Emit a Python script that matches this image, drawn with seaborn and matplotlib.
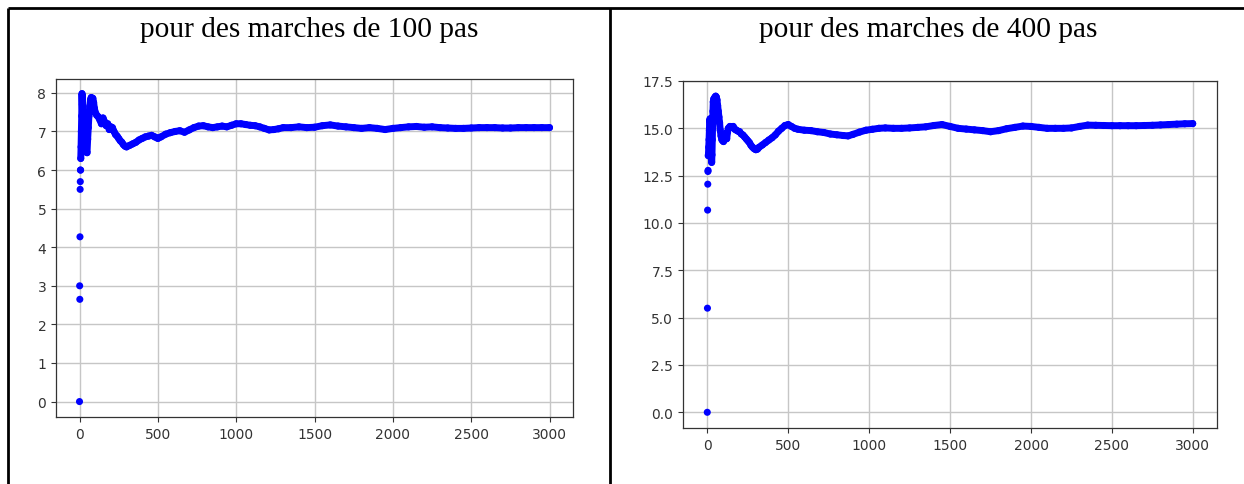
import matplotlib
matplotlib.use("Agg")
import matplotlib.pyplot as plt
import seaborn as sns
from matplotlib.lines import Line2D

# ---------------- data ----------------
titles = ["pour des marches de 100 pas", "pour des marches de 400 pas"]

# 100 pas: isolated early points
early_x_100 = [0, 1, 2, 3, 4, 5, 6, 7]
early_y_100 = [0.0, 3.0, 2.65, 4.27, 5.5, 5.7, 6.0, 6.0]
# 100 pas: running curve
curve_x_100 = [8, 10, 12, 14, 16, 18, 20, 22, 24, 27, 30, 33, 36, 40, 44, 48, 52, 56, 60, 65,
               70, 75, 80, 85, 90, 95, 100, 110, 120, 130, 140, 150, 160, 170, 180, 190, 200,
               210, 220, 230, 240, 250, 260, 270, 280, 290, 300, 320, 340, 360, 380, 400, 420,
               440, 460, 480, 500, 520, 550, 580, 610, 640, 670, 700, 730, 760, 790, 820, 850,
               880, 910, 940, 970, 1000, 1030, 1060, 1090, 1120, 1150, 1180, 1210, 1240, 1270,
               1300, 1350, 1400, 1450, 1500, 1550, 1600, 1650, 1700, 1750, 1800, 1850, 1900,
               1950, 2000, 2050, 2100, 2150, 2200, 2250, 2300, 2350, 2400, 2450, 2500, 2550,
               2600, 2650, 2700, 2750, 2800, 2850, 2900, 2950, 2999]
curve_y_100 = [6.3, 6.6, 7.0, 7.4, 7.98, 7.7, 7.4, 7.15, 6.9, 7.1, 6.8, 7.0, 6.7, 6.9, 6.5, 6.45,
               6.8, 7.1, 7.4, 7.65, 7.82, 7.88, 7.8, 7.86, 7.75, 7.6, 7.5, 7.42, 7.38, 7.3, 7.2,
               7.35, 7.25, 7.15, 7.2, 7.05, 7.12, 7.1, 7.0, 6.92, 6.88, 6.82, 6.76, 6.72, 6.66,
               6.62, 6.6, 6.64, 6.68, 6.72, 6.78, 6.82, 6.86, 6.88, 6.9, 6.86, 6.82, 6.86, 6.93,
               6.97, 7.0, 7.02, 6.98, 7.04, 7.1, 7.14, 7.15, 7.12, 7.1, 7.12, 7.14, 7.12, 7.16,
               7.2, 7.2, 7.18, 7.16, 7.15, 7.12, 7.08, 7.04, 7.05, 7.07, 7.1, 7.1, 7.12, 7.1,
               7.11, 7.15, 7.17, 7.14, 7.12, 7.1, 7.08, 7.1, 7.08, 7.05, 7.08, 7.1, 7.12, 7.13,
               7.11, 7.12, 7.1, 7.09, 7.08, 7.08, 7.09, 7.1, 7.1, 7.1, 7.09, 7.09, 7.1, 7.1,
               7.1, 7.1, 7.1]

# 400 pas: isolated early points
early_x_400 = [0, 1, 2, 3, 4, 5, 6]
early_y_400 = [0.0, 5.5, 10.68, 12.05, 12.72, 12.78, 13.55]
# 400 pas: running curve
curve_x_400 = [7, 9, 11, 13, 15, 17, 19, 21, 23, 25, 27, 29, 31, 33, 35, 37, 40, 44, 48, 52, 56,
               60, 64, 68, 72, 76, 80, 85, 90, 95, 100, 105, 110, 115, 120, 125, 130, 140, 150,
               160, 170, 180, 190, 200, 210, 220, 230, 240, 250, 260, 270, 280, 290, 300, 310,
               320, 340, 360, 380, 400, 420, 440, 460, 480, 500, 520, 540, 560, 600, 640, 680,
               720, 760, 800, 840, 870, 900, 940, 980, 1020, 1060, 1100, 1150, 1200, 1250, 1300,
               1350, 1400, 1450, 1500, 1550, 1600, 1650, 1700, 1750, 1800, 1850, 1900, 1950,
               2000, 2050, 2100, 2150, 2200, 2250, 2300, 2350, 2400, 2450, 2500, 2550, 2600,
               2650, 2700, 2750, 2800, 2850, 2900, 2950, 2999]
curve_y_400 = [13.6, 14.0, 14.4, 14.9, 15.4, 15.5, 15.3, 14.8, 14.2, 13.7, 13.2, 13.6, 14.4,
               15.2, 15.9, 16.4, 16.55, 16.6, 16.65, 16.7, 16.65, 16.5, 16.2, 15.9, 15.6, 15.3,
               14.9, 14.6, 14.4, 14.35, 14.3, 14.45, 14.7, 14.5, 14.45, 14.8, 15.0, 15.1, 15.05,
               15.1, 14.95, 14.9, 14.85, 14.82, 14.7, 14.65, 14.55, 14.45, 14.35, 14.25, 14.1,
               14.0, 13.92, 13.87, 13.9, 14.0, 14.12, 14.25, 14.38, 14.5, 14.65, 14.85, 15.0,
               15.15, 15.2, 15.1, 15.0, 14.95, 14.9, 14.88, 14.82, 14.78, 14.7, 14.66, 14.62,
               14.6, 14.68, 14.8, 14.9, 14.95, 15.0, 15.02, 15.0, 15.0, 15.02, 15.05, 15.08,
               15.15, 15.2, 15.1, 15.0, 14.96, 14.92, 14.88, 14.82, 14.88, 14.98, 15.05, 15.12,
               15.1, 15.05, 15.0, 15.0, 15.0, 15.02, 15.1, 15.17, 15.16, 15.15, 15.14, 15.14,
               15.14, 15.14, 15.15, 15.16, 15.18, 15.2, 15.22, 15.24, 15.25]

x_ticks = [0, 500, 1000, 1500, 2000, 2500, 3000]
y_ticks_100 = [0, 1, 2, 3, 4, 5, 6, 7, 8]
y_ticks_400 = [0.0, 2.5, 5.0, 7.5, 10.0, 12.5, 15.0, 17.5]

# ---------------- figure ----------------
sns.set_style("white")
plt.rcParams["font.family"] = ["DejaVu Sans"]

W, H = 1244, 485
fig = plt.figure(figsize=(W / 100, H / 100), dpi=100)

def px_axes(l, t, r, b):
    return fig.add_axes([l / W, 1 - b / H, (r - l) / W, (b - t) / H])

ax1 = px_axes(56, 80, 573, 418)
ax2 = px_axes(683, 82, 1217, 429)

BLUE = "#0000ff"

def draw(ax, ex, ey, cx, cy, yticks, ylim):
    ax.set_axisbelow(True)
    ax.grid(True, color="#c6c6c6", lw=1.0)
    sns.lineplot(x=cx, y=cy, ax=ax, sort=False, estimator=None, color=BLUE, lw=5.0,
                 solid_capstyle="round", solid_joinstyle="round")
    sns.scatterplot(x=list(ex) + list(cx), y=list(ey) + list(cy), ax=ax, color=BLUE,
                    s=26, linewidth=0, edgecolor="none")
    ax.set_xticks(x_ticks)
    ax.set_yticks(yticks)
    ax.set_xlim(-150, 3149)
    ax.set_ylim(*ylim)
    ax.set_xlabel("")
    ax.set_ylabel("")
    for s in ax.spines.values():
        s.set_visible(True)
        s.set_color("#333333")
        s.set_linewidth(0.9)
    ax.tick_params(bottom=True, left=True, length=3.5, width=0.8, color="#333333",
                   labelcolor="#333333", labelsize=10, direction="out")

draw(ax1, early_x_100, early_y_100, curve_x_100, curve_y_100, y_ticks_100, (-0.4, 8.36))
draw(ax2, early_x_400, early_y_400, curve_x_400, curve_y_400, y_ticks_400, (-0.83, 17.5))

# table borders
def fline(x0, y0, x1, y1):
    fig.add_artist(Line2D([x0 / W, x1 / W], [1 - y0 / H, 1 - y1 / H],
                          transform=fig.transFigure, color="black", lw=2.0,
                          solid_capstyle="butt"))

fline(8.3, 9.3, W, 9.3)
fline(8.3, 9.3, 8.3, H)
fline(610.3, 9.3, 610.3, H)

# titles
fig.text(309 / W, 1 - 37 / H, titles[0], ha="center", va="baseline",
         family=["Liberation Serif", "DejaVu Serif"], fontsize=21.2, color="black")
fig.text(928 / W, 1 - 37 / H, titles[1], ha="center", va="baseline",
         family=["Liberation Serif", "DejaVu Serif"], fontsize=21.2, color="black")

fig.savefig("out.png", dpi=100)
